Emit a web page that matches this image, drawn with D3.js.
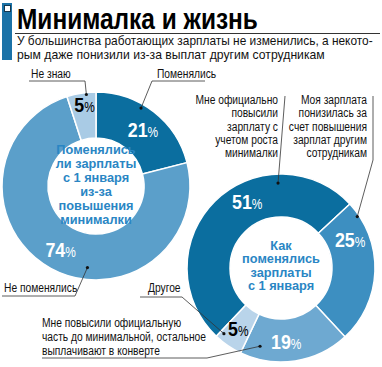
<!DOCTYPE html>
<html>
<head>
<meta charset="utf-8">
<script src="https://cdn.jsdelivr.net/npm/d3@7"></script>
<style>
  body { margin: 0; background: #fff; }
  text { font-family: "Liberation Sans", Arial, sans-serif; }
</style>
</head>
<body>
<div class="chart"></div>
<script>
// === Data ===
const leftCats = ["Поменялись", "Не поменялись", "Не знаю"];
const leftValues = [21, 74, 5];
const leftColors = ["#0b6e9f", "#5b9fca", "#a9cbe5"];

const rightCats = [
  "Мне официально повысили зарплату с учетом роста минималки",
  "Моя зарплата понизилась за счет повышения зарплат другим сотрудникам",
  "Мне повысили официальную часть до минимальной, остальное выплачивают в конверте",
  "Другое"
];
const rightValues = [51, 25, 19, 5];
const rightColors = ["#0b6e9f", "#3d8fc1", "#6ea9d1", "#b9d4ea"];

const title = "Минималка и жизнь";
const subtitle = ["У большинства работающих зарплаты не изменились, а некото-",
                  "рым даже понизили из-за выплат другим сотрудникам"];
const leftCenter = ["Поменялись", "ли зарплаты", "с 1 января", "из-за", "повышения", "минималки"];
const rightCenter = ["Как", "поменялись", "зарплаты", "с 1 января"];

//Chart init
const width = 382, height = 367;
const svg = d3.select(".chart").append("svg")
    .attr("width", width)
    .attr("height", height);

// text squeezed horizontally (the original uses a condensed face)
function sq(parent, str, x, y, sx) {
  const g = parent.append("g")
    .attr("transform", "translate(" + x + "," + y + ") scale(" + sx + ",1)");
  return g.append("text").attr("x", 0).attr("y", 0).text(str);
}
// text scaled to a given width
function fit(parent, str, x, y, w, size, weight) {
  const g = parent.append("g").attr("transform", "translate(" + x + "," + y + ")");
  const t = g.append("text").attr("font-size", size).attr("font-weight", weight).text(str);
  const nat = t.node().getComputedTextLength();
  g.attr("transform", "translate(" + x + "," + y + ") scale(" + (w / nat) + ",1)");
  return t;
}

// === Header ===
svg.append("rect").attr("x", 2).attr("y", 3).attr("width", 10).attr("height", 57).attr("fill", "#1b72a7");
svg.append("rect").attr("x", 4.5).attr("y", 5.5).attr("width", 6).attr("height", 6)
    .attr("fill", "#fff").attr("stroke", "#16384f").attr("stroke-width", 1);
fit(svg, title, 17, 29, 241, 30, "bold");
svg.append("line").attr("x1", 15).attr("x2", 380).attr("y1", 33.5).attr("y2", 33.5)
    .attr("stroke", "#333").attr("stroke-width", 1);
const subLen = [356, 308];
subtitle.forEach((s, i) => {
  fit(svg, s, 17, 45 + i * 13.5, subLen[i], 13, "normal").attr("fill", "#111");
});

// === Donut helper ===
function donut(cfg) {
  const g = svg.append("g").attr("transform", "translate(" + cfg.cx + "," + cfg.cy + ")");
  const pie = d3.pie().sort(null)
      .startAngle(cfg.start * Math.PI / 180)
      .endAngle((cfg.start + 360) * Math.PI / 180);
  const arc = d3.arc().innerRadius(cfg.r0).outerRadius(cfg.r1);
  const arcs = pie(cfg.values);

  g.selectAll("path").data(arcs).enter().append("path")
    .attr("d", arc)
    .attr("fill", (d, i) => cfg.colors[i])
    .attr("stroke", "#fff").attr("stroke-width", 1.5);

  // percentage labels
  arcs.forEach((d, i) => {
    const lr = cfg.labelR[i];
    const a = cfg.labelAngle[i] * Math.PI / 180;
    const t = sq(g, null, lr * Math.sin(a), -lr * Math.cos(a) + 7, 0.85)
      .attr("text-anchor", "middle")
      .attr("fill", cfg.labelColors[i]);
    t.append("tspan").attr("font-size", 21).attr("font-weight", "bold").text(cfg.values[i]);
    t.append("tspan").attr("font-size", 14).text("%");
  });

  // centre title
  const lh = cfg.lineH;
  const y0 = cfg.centerY - (cfg.center.length - 1) * lh / 2;
  cfg.center.forEach((s, i) => {
    sq(g, s, 0, y0 + i * lh + 5, 0.96)
      .attr("text-anchor", "middle")
      .attr("font-size", 13.3).attr("font-weight", "bold")
      .attr("fill", "#2a86c4");
  });
  return {g: g, cx: cfg.cx, cy: cfg.cy};
}

const left = donut({
  cx: 96, cy: 186, r0: 48, r1: 94, start: 0,
  values: leftValues, colors: leftColors,
  labelColors: ["#fff", "#fff", "#000"],
  labelAngle: [40, 209, 352], labelR: [73, 73, 82],
  center: leftCenter, centerY: -2, lineH: 14
});

const right = donut({
  cx: 281, cy: 268, r0: 51, r1: 94, start: -136.5,
  values: rightValues, colors: rightColors,
  labelColors: ["#fff", "#fff", "#fff", "#000"],
  labelAngle: [-27, 68, 176, 215], labelR: [74.5, 74.5, 74.5, 74.5],
  center: rightCenter, centerY: -3, lineH: 13.3
});

// === Leader lines and callout labels ===
function polar(d, ang, r) {
  const a = ang * Math.PI / 180;
  return [d.cx + r * Math.sin(a), d.cy - r * Math.cos(a)];
}
function leader(points) {
  svg.append("path")
    .attr("d", d3.line()(points))
    .attr("fill", "none").attr("stroke", "#333").attr("stroke-width", 0.8);
  const e = points[points.length - 1];
  svg.append("circle").attr("cx", e[0]).attr("cy", e[1]).attr("r", 1.6).attr("fill", "#111");
}
function label(lines, x, y, anchor, lh) {
  lines.forEach((s, i) => {
    sq(svg, s, x, y + i * lh, 0.82)
      .attr("text-anchor", anchor)
      .attr("font-size", 12.5).attr("fill", "#111");
  });
}

// left donut
label(["Не знаю"], 31, 78, "start", 13);
leader([[29, 81], [85, 81], polar(left, 354, 92)]);
label(["Поменялись"], 157, 78, "start", 13);
leader([[205, 81], [152, 81], polar(left, 30, 90)]);
label(["Не поменялись"], 4, 292, "start", 13);
leader([[2, 296], [75, 296], polar(left, 186, 82)]);

// right donut
label(["Мне официально", "повысили", "зарплату с", "учетом роста", "минималки"], 278, 104, "end", 13.3);
leader([[285, 96], polar(right, -2, 85)]);
label(["Моя зарплата", "понизилась за", "счет повышения", "зарплат другим", "сотрудникам"], 367, 104, "end", 13.3);
leader([[373, 96], [373, 160], polar(right, 56, 92)]);
label(["Другое"], 148, 292, "start", 13);
leader([[140, 297], [182, 297], polar(right, 221, 87)]);
label(["Мне повысили официальную", "часть до минимальной, остальное", "выплачивают в конверте"], 42, 327, "start", 14);
leader([[42, 358], [207, 358], polar(right, 195, 81)]);
</script>
</body>
</html>
